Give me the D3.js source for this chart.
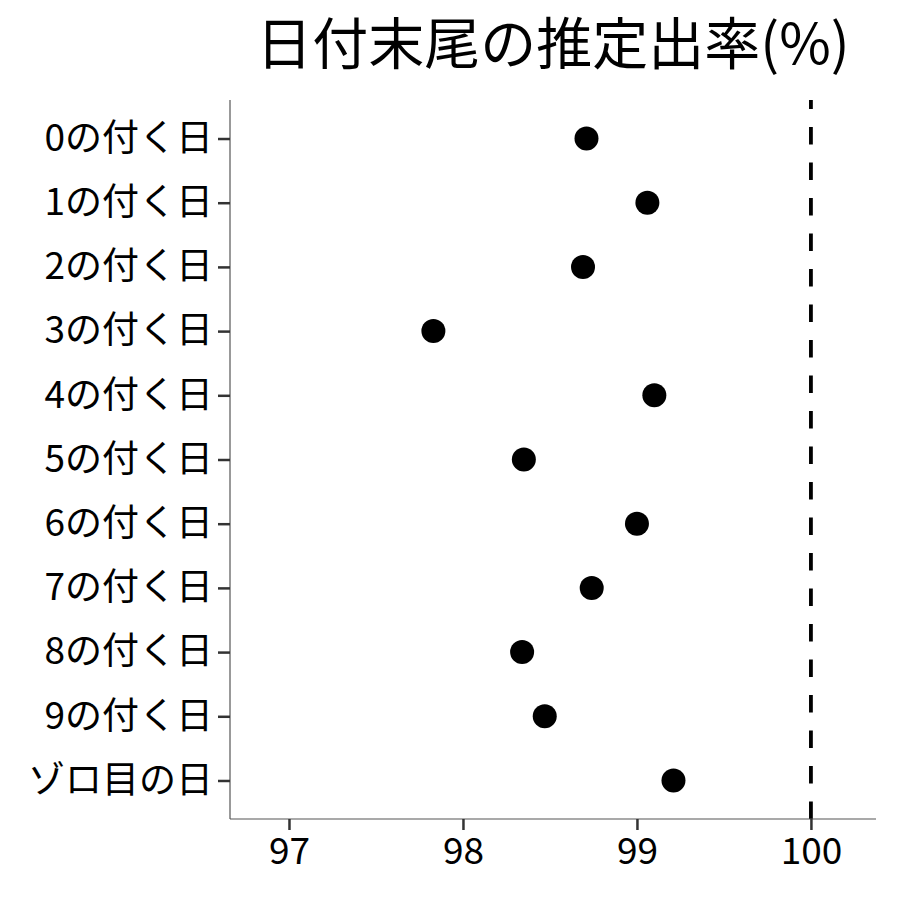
<!DOCTYPE html>
<html>
<head>
<meta charset="utf-8">
<script src="https://cdn.jsdelivr.net/npm/d3@7"></script>
<style>
  body { margin: 0; background: #fff; }
  text { font-family: "Noto Sans CJK JP", "Noto Sans", sans-serif; }
</style>
</head>
<body>
<div id="chart"></div>
<script>
// data
var categories = ["0の付く日", "1の付く日", "2の付く日", "3の付く日", "4の付く日",
    "5の付く日", "6の付く日", "7の付く日", "8の付く日", "9の付く日", "ゾロ目の日"];
var rates = [98.71, 99.06, 98.69, 97.83, 99.10, 98.35, 99.00, 98.74, 98.34, 98.47, 99.21];
var xTicks = [97, 98, 99, 100];
var refLine = [100];
var titleText = "日付末尾の推定出率(%)";

var width = 900, height = 900;
var panel = { left: 230, right: 876, top: 100, bottom: 819 };

var svg = d3.select("#chart").append("svg")
    .attr("width", width)
    .attr("height", height);

var x = d3.scaleLinear()
    .domain([96.661, 100.374])
    .range([panel.left, panel.right]);

var y = d3.scalePoint()
    .domain(categories)
    .range([panel.top, panel.bottom])
    .padding(0.6);

// reference line at 100%
svg.selectAll(".ref")
    .data(refLine)
    .enter().append("line")
    .attr("class", "ref")
    .attr("x1", function(d) { return x(d); })
    .attr("x2", function(d) { return x(d); })
    .attr("y1", panel.bottom)
    .attr("y2", panel.top)
    .style("stroke", "#000")
    .style("stroke-width", 3.8)
    .style("stroke-dasharray", "17.5,18");

// points
svg.selectAll(".dot")
    .data(rates)
    .enter().append("circle")
    .attr("class", "dot")
    .attr("cx", function(d) { return x(d); })
    .attr("cy", function(d, i) { return y(categories[i]); })
    .attr("r", 12)
    .style("fill", "#000");

// x axis
var xAxis = svg.append("g")
    .attr("transform", "translate(0," + panel.bottom + ")")
    .call(d3.axisBottom(x).tickValues(xTicks).tickSize(11).tickPadding(8).tickFormat(d3.format("d")));
xAxis.select(".domain").attr("d", "M" + panel.left + ",0H" + panel.right)
    .style("stroke", "#555").style("stroke-width", 1.2);
xAxis.selectAll(".tick line").style("stroke", "#333").style("stroke-width", 2.5);
xAxis.selectAll(".tick text").style("font-size", "37px").style("fill", "#000")
    .style("font-family", "'Noto Sans CJK JP', sans-serif");

// y axis
var yAxis = svg.append("g")
    .attr("transform", "translate(" + panel.left + ",0)")
    .call(d3.axisLeft(y).tickSize(12).tickPadding(5));
yAxis.select(".domain").attr("d", "M0," + panel.top + "V" + panel.bottom)
    .style("stroke", "#555").style("stroke-width", 1.2);
yAxis.selectAll(".tick line").style("stroke", "#333").style("stroke-width", 2.5);
yAxis.selectAll(".tick text").style("font-size", "37px").style("fill", "#000")
    .style("font-family", "'Noto Sans CJK JP', sans-serif");

// title
svg.append("text")
    .attr("x", (panel.left + panel.right) / 2)
    .attr("y", 64)
    .attr("text-anchor", "middle")
    .style("font-size", "56px")
    .style("fill", "#000")
    .text(titleText);
</script>
</body>
</html>
